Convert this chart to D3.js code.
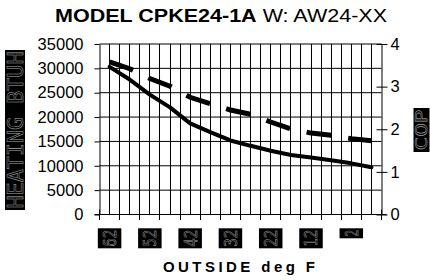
<!DOCTYPE html>
<html>
<head>
<meta charset="utf-8">
<script src="https://cdn.jsdelivr.net/npm/d3@7"></script>
<style>
  html, body { margin: 0; padding: 0; background: #fff; }
  svg { display: block; }
</style>
</head>
<body>
<svg id="chart" width="430" height="280"></svg>
<script>
// ---- data ----
const categories = ["62","57","52","47","42","37","32","27","22","17","12","7","2","-3"];
const xTickLabels = ["62","52","42","32","22","12","2"];
const heating = [30300, 27700, 24600, 22000, 18700, 16900, 15200, 14100, 13100, 12200, 11700, 11150, 10500, 9700];
const cop = [3.58, 3.42, 3.19, 3.01, 2.75, 2.60, 2.45, 2.35, 2.17, 2.01, 1.91, 1.86, 1.78, 1.73];
const leftTicks = [0, 5000, 10000, 15000, 20000, 25000, 30000, 35000];
const rightTicks = [0, 1, 2, 3, 4];
const titleBold = "MODEL CPKE24-1A";
const titleRest = " W: AW24-XX";
const xTitle = "OUTSIDE deg F";
const yLeftTitle = "HEATING BTUH";
const yRightTitle = "COP";

// ---- layout ----
const svg = d3.select("#chart");
const pL = 99.5, pR = 381.5, pT = 44, pB = 214.5;

const x = d3.scaleBand().domain(categories).range([pL, pR]).paddingInner(0).paddingOuter(0);
const bw = x.bandwidth();
const cx = c => x(c) + bw / 2;
const yL = d3.scaleLinear().domain([0, 35000]).range([pB, pT]);
const yR = d3.scaleLinear().domain([0, 4]).range([pB, pT]);

svg.append("rect").attr("width", 430).attr("height", 280).attr("fill", "#fff");

// ---- grid ----
const grid = svg.append("g");
const vx = [];
categories.forEach(c => { vx.push(x(c)); vx.push(cx(c)); });
grid.selectAll("line.v").data(vx.slice(1)).join("line")
  .attr("x1", d => Math.round(d - 0.5) + 0.5).attr("x2", d => Math.round(d - 0.5) + 0.5)
  .attr("y1", pT).attr("y2", pB)
  .attr("stroke", "#000").attr("stroke-width", 1);
grid.selectAll("line.h").data(leftTicks).join("line")
  .attr("x1", pL).attr("x2", pR)
  .attr("y1", d => yL(d)).attr("y2", d => yL(d))
  .attr("stroke", "#000").attr("stroke-width", 1);

// ---- axes ----
const axL = svg.append("g").attr("transform", `translate(${pL},0)`)
  .call(d3.axisLeft(yL).tickValues(leftTicks).tickSize(5).tickSizeOuter(0).tickPadding(11).tickFormat(d => String(d)));
const axR = svg.append("g").attr("transform", `translate(${pR},0)`)
  .call(d3.axisRight(yR).tickValues(rightTicks).tickSize(6).tickSizeOuter(0).tickPadding(3).tickFormat(d => String(d)));
axR.selectAll(".tick line").attr("x1", -5);
[axL, axR].forEach(a => {
  a.select(".domain").attr("stroke", "#000").attr("stroke-width", 1);
  a.selectAll(".tick line").attr("stroke", "#000");
  a.selectAll("text").attr("font-family", "Liberation Sans, Arial, sans-serif")
    .attr("font-size", 16.5).attr("fill", "#000");
});
svg.append("line").attr("x1", pL - 5).attr("x2", pR + 5)
  .attr("y1", pB).attr("y2", pB).attr("stroke", "#000");
const bounds = categories.map(c => x(c)).concat([pR]);
svg.selectAll("line.bt").data(bounds).join("line")
  .attr("x1", d => Math.round(d - 0.5) + 0.5).attr("x2", d => Math.round(d - 0.5) + 0.5)
  .attr("y1", pB - 5).attr("y2", pB + 5.5).attr("stroke", "#000");

// ---- boxed rotated labels ----
function boxLabel(text, cxp, y0, y1, boxW, fontSize) {
  const g = svg.append("g");
  g.append("rect").attr("x", cxp - boxW / 2).attr("y", y0).attr("width", boxW).attr("height", y1 - y0).attr("fill", "#000");
  const len = (y1 - y0) - 3;
  const bx = cxp + fontSize * 0.36;
  const ty = (y0 + y1) / 2;
  g.append("text")
    .attr("transform", `translate(${bx},${ty}) rotate(-90)`)
    .attr("text-anchor", "middle")
    .attr("font-family", "DejaVu Sans Mono, monospace")
    .attr("font-size", fontSize)
    .attr("textLength", len).attr("lengthAdjust", "spacingAndGlyphs")
    .attr("fill", "none").attr("stroke", "#a8a8a8").attr("stroke-width", 0.5)
    .text(text);
}
categories.forEach(c => {
  if (xTickLabels.includes(c)) {
    const h = c.length * 10;
    boxLabel(c, cx(c), 228.3, 228.3 + h, 23.5, 18);
  }
});
boxLabel(yLeftTitle, 15, 50, 210, 20, 21);
boxLabel(yRightTitle, 421.5, 108, 152, 16, 15);

// ---- lines ----
const idx = d3.range(categories.length);
const lineH = d3.line().x(i => cx(categories[i])).y(i => yL(heating[i]));
const lineC = d3.line().x(i => cx(categories[i])).y(i => yR(cop[i]));
svg.append("path").attr("d", lineH(idx)).attr("fill", "none")
  .attr("stroke", "#000").attr("stroke-width", 4).attr("stroke-linejoin", "round").attr("stroke-linecap", "round");
svg.append("path").attr("d", lineC(idx)).attr("fill", "none")
  .attr("stroke", "#000").attr("stroke-width", 5).attr("stroke-dasharray", "25,17").attr("stroke-linejoin", "miter");

// ---- titles ----
const t = svg.append("text").attr("x", 55).attr("y", 22)
  .attr("font-family", "Liberation Sans, Arial, sans-serif").attr("font-size", 18).attr("fill", "#000")
  .attr("textLength", 332).attr("lengthAdjust", "spacingAndGlyphs");
t.append("tspan").attr("font-weight", "bold").text(titleBold);
t.append("tspan").text(titleRest);

svg.append("text").attr("x", 163).attr("y", 272)
  .attr("font-family", "Liberation Sans, Arial, sans-serif").attr("font-size", 15).attr("font-weight", "bold")
  .attr("fill", "#000").attr("textLength", 152).attr("lengthAdjust", "spacing")
  .text(xTitle);
</script>
</body>
</html>
